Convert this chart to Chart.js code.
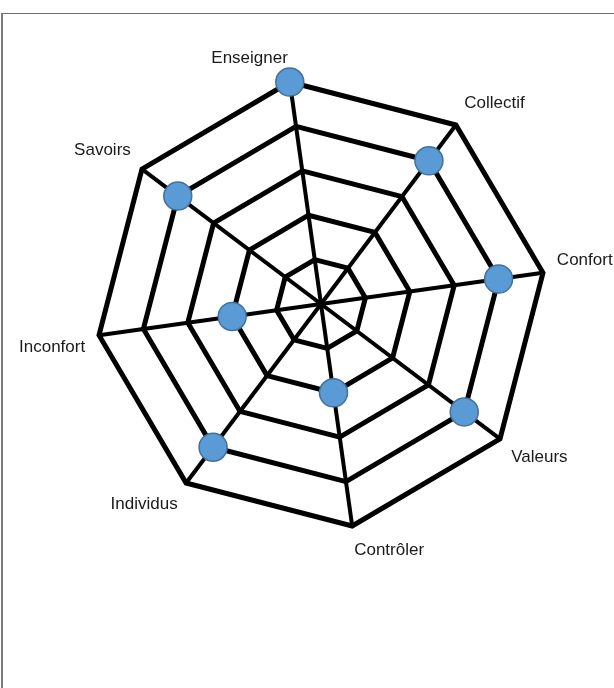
<!DOCTYPE html>
<html>
<head>
<meta charset="utf-8">
<script src="https://cdn.jsdelivr.net/npm/chart.js@4"></script>
<style>
  html, body { margin: 0; padding: 0; background: #fff; }
  body { width: 614px; height: 688px; position: relative; overflow: hidden; }
  .frame {
    position: absolute; left: 1px; top: 13px; right: 0; bottom: 0;
    border-top: 1px solid #6e6e6e; border-left: 2px solid #7a7a7a;
  }
  .chart-box { position: absolute; left: 0; top: 14px; width: 618px; height: 580px; }
</style>
</head>
<body>
<div class="frame"></div>
<div class="chart-box"><canvas id="radar"></canvas></div>
<script>
// axes, clockwise from the top
const categories = ['Enseigner', 'Collectif', 'Confort', 'Valeurs', 'Contrôler', 'Individus', 'Inconfort', 'Savoirs'];
const scores = [5, 4, 4, 4, 2, 4, 2, 4];
const ringLevels = [0, 1, 2, 3, 4, 5];

const ctx = document.getElementById('radar');
new Chart(ctx, {
    type: 'radar',
    data: {
        labels: categories,
        datasets: [{
            label: 'Score',
            data: scores,
            showLine: false,
            fill: false,
            borderWidth: 0,
            pointRadius: 14,
            pointHoverRadius: 14,
            pointBackgroundColor: '#5b9bd5',
            pointBorderColor: '#41719c',
            pointBorderWidth: 1.5
        }]
    },
    options: {
        responsive: true,
        maintainAspectRatio: false,
        animation: false,
        layout: { padding: { left: 14, right: 0, top: 10, bottom: 10 } },
        plugins: { legend: { display: false }, tooltip: { enabled: false } },
        scales: {
            r: {
                min: ringLevels[0],
                max: ringLevels[ringLevels.length - 1],
                startAngle: -8,
                ticks: { display: false, stepSize: 1 },
                grid: { color: '#000', lineWidth: 5 },
                angleLines: { color: '#000', lineWidth: 4 },
                pointLabels: {
                    padding: 14,
                    color: '#1a1a1a',
                    font: { family: '"Liberation Sans", Arial, sans-serif', size: 17 }
                }
            }
        }
    }
});
</script>
</body>
</html>
